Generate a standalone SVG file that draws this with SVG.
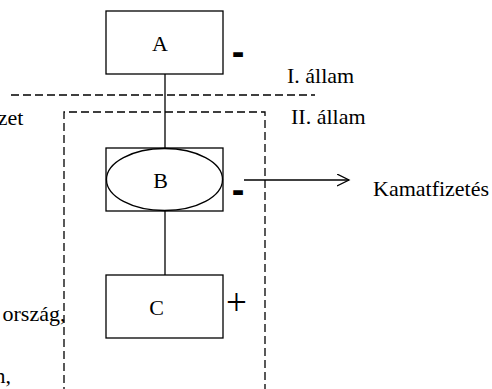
<svg xmlns="http://www.w3.org/2000/svg" width="492" height="389" viewBox="0 0 492 389">
<style>
.box{fill:#fff;stroke:#000;stroke-width:1.3}
.ln{fill:none;stroke:#000;stroke-width:1.3}
.dash{fill:none;stroke:#000;stroke-width:1.3;stroke-dasharray:8,4}
text{font-family:"Liberation Serif","Times New Roman",serif;font-size:22px;fill:#000}
text.sign{font-family:"Liberation Sans",Arial,sans-serif;font-weight:bold;font-size:38px}
text.plus{font-size:37px}
</style>
<defs>
<marker id="open" markerWidth="14" markerHeight="14" refX="12" refY="6" orient="auto" markerUnits="userSpaceOnUse">
<path d="M0,0 L12,6 L0,12" fill="none" stroke="#000" stroke-width="1.3"/>
</marker>
</defs>
<rect width="492" height="389" fill="#fff"/>
<g id="borders">
<line class="dash" x1="11" y1="95" x2="315" y2="95"/>
<path class="dash" d="M64,395 V112 H265 V395"/>
</g>
<g id="connectors">
<line class="ln" x1="165" y1="74" x2="165" y2="148"/>
<line class="ln" x1="165" y1="211" x2="165" y2="275"/>
<line class="ln" x1="244" y1="180" x2="349" y2="180" marker-end="url(#open)"/>
</g>
<g id="A">
<rect class="box" x="106" y="11" width="117" height="63"/>
<text x="160" y="51" text-anchor="middle">A</text>
<text class="sign" x="238" y="65" text-anchor="middle">-</text>
</g>
<g id="B">
<rect class="box" x="106" y="148" width="117" height="63"/>
<ellipse class="ln" cx="164.5" cy="179.5" rx="58" ry="31"/>
<text x="160.5" y="188" text-anchor="middle">B</text>
<text class="sign" x="238" y="203" text-anchor="middle">-</text>
</g>
<g id="C">
<rect class="box" x="106" y="275" width="117" height="63"/>
<text x="156.5" y="315" text-anchor="middle">C</text>
<text class="plus" x="236.5" y="315" text-anchor="middle">+</text>
</g>
<g id="labels">
<text x="287" y="83">I. állam</text>
<text x="291" y="124">II. állam</text>
<text x="373" y="196">Kamatfizetés</text>
<text x="23.5" y="125" text-anchor="end">zet</text>
<text x="2.5" y="321">ország,</text>
<text x="11" y="383" text-anchor="end">n,</text>
</g>
</svg>
